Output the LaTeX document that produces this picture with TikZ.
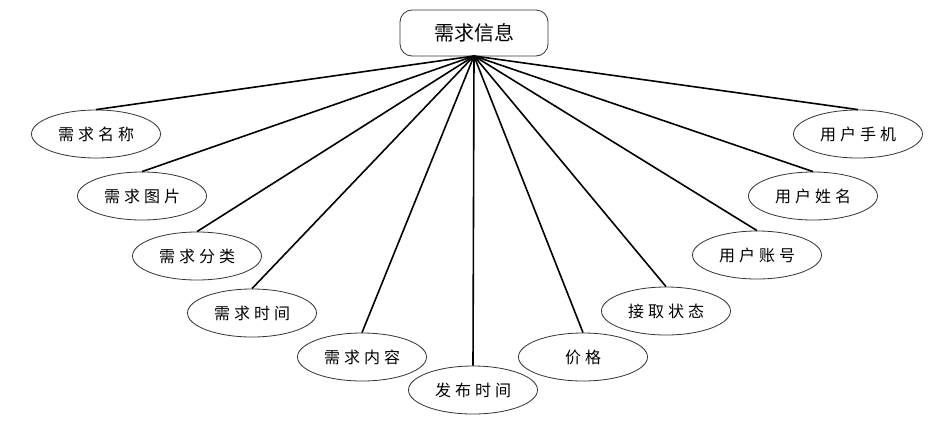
\documentclass[tikz,border=0pt]{standalone}
\usepackage{fontspec}
\newfontfamily\cjk{Noto Sans CJK SC}
\usetikzlibrary{shapes.geometric}
\newcommand{\gp}{\hspace{4pt}}
\begin{document}
\begin{tikzpicture}[x=1pt,y=-1pt,
  attr/.style={ellipse,draw=black!80,line width=0.8pt,minimum width=129pt,minimum height=48pt,inner sep=0pt,font=\cjk\fontsize{16}{18}\selectfont},
  ent/.style={rectangle,rounded corners=12pt,draw=black!80,line width=0.8pt,minimum width=148pt,minimum height=46pt,inner sep=0pt,font=\cjk\fontsize{20}{22}\selectfont},
  link/.style={line width=1.6pt,black}]
\useasboundingbox[fill=white] (0,0) rectangle (940,440);
\node[ent] (top) at (474,33) {需求信息};
\coordinate (hub) at (474,56);
\node[attr] (a1) at (96,134) {需\gp 求\gp 名\gp 称};
\node[attr] (a2) at (142,196) {需\gp 求\gp 图\gp 片};
\node[attr] (a3) at (197,256) {需\gp 求\gp 分\gp 类};
\node[attr] (a4) at (252,313) {需\gp 求\gp 时\gp 间};
\node[attr] (a5) at (362,357) {需\gp 求\gp 内\gp 容};
\node[attr] (a6) at (473,390) {发\gp 布\gp 时\gp 间};
\node[attr] (a7) at (583,357) {价\gp 格};
\node[attr] (a8) at (666,311) {接\gp 取\gp 状\gp 态};
\node[attr] (a9) at (757,255) {用\gp 户\gp 账\gp 号};
\node[attr] (a10) at (813,196) {用\gp 户\gp 姓\gp 名};
\node[attr] (a11) at (858,134) {用\gp 户\gp 手\gp 机};
\foreach \n in {a1,a2,a3,a4,a5,a6,a7,a8,a9,a10,a11}
  \draw[link] (hub) -- (\n.north);
\end{tikzpicture}
\end{document}
